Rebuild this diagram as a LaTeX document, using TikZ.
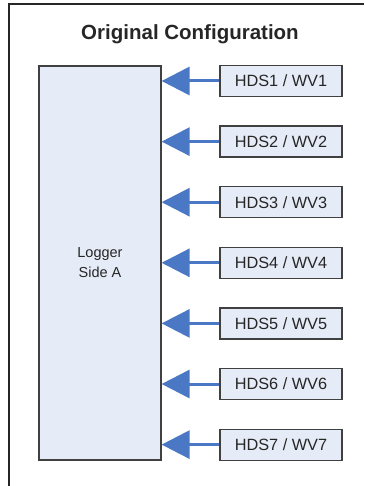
\documentclass[tikz,border=0pt]{standalone}
\usepackage{fontspec}
\setmainfont{Liberation Sans}
\usetikzlibrary{arrows.meta}
\definecolor{boxfill}{HTML}{E6ECF7}
\definecolor{boxedge}{HTML}{404040}
\definecolor{arrowblue}{HTML}{4A78C4}
\begin{document}
\begin{tikzpicture}[x=1pt,y=-1pt,
  srcbox/.style={draw=boxedge,line width=1.2pt,fill=boxfill,minimum width=122pt,minimum height=31pt,inner sep=0pt,font=\fontsize{16.3}{18}\selectfont,text=black!85},
  feed/.style={draw=arrowblue,line width=3pt,-{Triangle[length=28pt,width=28pt]}}]
\useasboundingbox (0,0) rectangle (364,486);
\fill[white] (0,0) rectangle (364,486);
\draw[line width=1.4pt,black!85] (9,486) -- (9,4) -- (364,4);
\node[font=\bfseries\fontsize{20.5}{24}\selectfont,text=black!85] (title) at (190,34) {Original Configuration};
\node[draw=boxedge,line width=1.2pt,fill=boxfill,minimum width=122pt,minimum height=394pt,inner sep=0pt,align=center,font=\fontsize{14.5}{20}\selectfont,text=black!85] (logger) at (100,263) {Logger\\Side A};
\foreach \i [evaluate=\i as \yy using 81+(\i-1)*60.6] in {1,...,7} {
  \node[srcbox] (h\i) at (281,\yy) {HDS\i{} / WV\i};
  \draw[feed] (h\i.west) -- (logger.east |- h\i.west);
}
\end{tikzpicture}
\end{document}
